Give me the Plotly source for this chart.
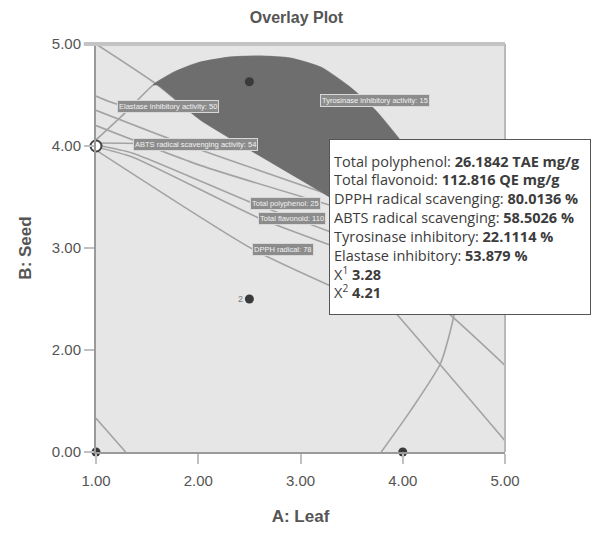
import plotly.graph_objects as go

# ---- axis ticks ----
x_ticks = [1, 2, 3, 4, 5]
x_tick_text = ["1.00", "2.00", "3.00", "4.00", "5.00"]
y_ticks = [1, 2, 3, 4, 5]
y_tick_text = ["0.00", "2.00", "3.00", "4.00", "5.00"]

# ---- design points (A: Leaf, B: Seed) ----
design_x = [1.0, 4.0, 2.5, 2.5]
design_y = [1.0, 1.0, 2.5, 4.63]
rep_x = 2.5
rep_y = 2.5
rep_count = "2"
open_x = [1.0]
open_y = [4.0]

# ---- contour lines of the responses ----
line_a_x = [1.00, 1.60, 2.02, 3.29, 4.17, 5.00]
line_a_y = [5.00, 4.60, 4.26, 3.50, 2.93, 2.45]

curve_c_x = [1.00, 1.29, 1.56, 1.78, 2.02, 2.31, 2.61, 2.90, 3.20, 3.49, 3.73,
             3.93, 4.12, 4.32, 4.47, 4.53, 4.50, 4.37, 4.08, 3.79]
curve_c_y = [4.06, 4.33, 4.60, 4.73, 4.82, 4.87, 4.88, 4.86, 4.77, 4.57, 4.35,
             4.11, 3.86, 3.52, 3.08, 2.69, 2.34, 1.87, 1.41, 1.00]

elastase_x = [1.00, 1.21, 2.49, 3.30]
elastase_y = [4.49, 4.41, 4.33, 4.00]
tpc_x = [1.00, 1.75, 3.29]
tpc_y = [4.35, 4.06, 3.52]
fan2_x = [1.00, 2.02, 3.29]
fan2_y = [4.20, 3.81, 3.42]
abts_x = [1.00, 2.99, 3.60]
abts_y = [4.03, 3.96, 3.70]
poly_x = [1.00, 1.36, 2.51, 3.29]
poly_y = [4.01, 3.93, 3.45, 3.16]
flav_x = [1.00, 1.36, 2.58, 3.29]
flav_y = [3.99, 3.89, 3.30, 3.03]
dpph_x = [1.00, 2.53, 3.29]
dpph_y = [3.96, 2.99, 2.63]
right1_x = [3.48, 3.95, 5.00]
right1_y = [2.86, 2.34, 1.11]
right2_x = [3.98, 4.47, 5.00]
right2_y = [2.73, 2.34, 1.85]
corner_x = [1.00, 1.29]
corner_y = [1.33, 1.00]

# dark region: inside curve C and above line A
shade_x = [1.56, 1.78, 2.02, 2.31, 2.61, 2.90, 3.20, 3.49, 3.73, 3.93, 4.12,
           4.32, 4.47, 4.52, 4.17, 3.29, 2.02, 1.60, 1.56]
shade_y = [4.60, 4.73, 4.82, 4.87, 4.88, 4.86, 4.77, 4.57, 4.35, 4.11, 3.86,
           3.52, 3.08, 2.80, 2.93, 3.50, 4.26, 4.60, 4.60]

# ---- contour labels ----
contour_labels = [
    ("Elastase inhibitory activity: 50", 1.21, 4.39),
    ("ABTS radical scavenging activity: 54", 1.36, 4.01),
    ("Tyrosinase inhibitory activity: 15", 3.19, 4.45),
    ("Total polyphenol: 25", 2.51, 3.44),
    ("Total flavonoid: 110", 2.58, 3.29),
    ("DPPH radical: 78", 2.53, 2.99),
]

# ---- flag ----
flag_x = 3.28
flag_y = 4.21
flag_rows = [
    ("Total polyphenol", "26.1842 TAE mg/g"),
    ("Total flavonoid", "112.816 QE mg/g"),
    ("DPPH radical scavenging", "80.0136 %"),
    ("ABTS radical scavenging", "58.5026 %"),
    ("Tyrosinase inhibitory", "22.1114 %"),
    ("Elastase inhibitory", "53.879 %"),
]

LINE_COLOR = "#a3a3a3"
SHADE = "#6e6e6e"
TXT = "#555555"
NARROW = "Liberation Sans Narrow, Arial Narrow, sans-serif"

fig = go.Figure()

contours = [
    (line_a_x, line_a_y), (curve_c_x, curve_c_y), (elastase_x, elastase_y),
    (tpc_x, tpc_y), (fan2_x, fan2_y), (abts_x, abts_y), (poly_x, poly_y),
    (flav_x, flav_y), (dpph_x, dpph_y), (right1_x, right1_y),
    (right2_x, right2_y), (corner_x, corner_y),
]
for cx, cy in contours:
    fig.add_trace(go.Scatter(
        x=cx, y=cy, mode="lines",
        line=dict(color=LINE_COLOR, width=1.6, shape="spline", smoothing=0.6),
        hoverinfo="skip", showlegend=False,
    ))

fig.add_trace(go.Scatter(
    x=shade_x, y=shade_y, mode="lines", fill="toself", fillcolor=SHADE,
    line=dict(color=SHADE, width=1, shape="spline", smoothing=0.5),
    hoverinfo="skip", showlegend=False,
))

fig.add_trace(go.Scatter(
    x=design_x, y=design_y, mode="markers",
    marker=dict(size=9, color="#3a3a3a"),
    cliponaxis=False, hoverinfo="skip", showlegend=False,
))
fig.add_trace(go.Scatter(
    x=open_x, y=open_y, mode="markers",
    marker=dict(size=11, color="white", line=dict(color="#444444", width=2)),
    cliponaxis=False, hoverinfo="skip", showlegend=False,
))

annotations = [dict(
    x=rep_x, y=rep_y, xref="x", yref="y", xanchor="right", yanchor="middle",
    xshift=-4, text=rep_count, showarrow=False,
    font=dict(size=9, color="#777777", family="Arial, sans-serif"),
)]
for txt, lx, ly in contour_labels:
    annotations.append(dict(
        x=lx, y=ly, xref="x", yref="y", xanchor="left", yanchor="middle",
        text=txt, showarrow=False,
        font=dict(size=7.5, color="#f2f2f2", family="Arial, sans-serif"),
        bgcolor="#8c8c8c", bordercolor="#d8d8d8", borderwidth=1, borderpad=1,
    ))

flag_lines = [f"{k}: <b>{v}</b>" for k, v in flag_rows]
flag_lines.append(f"X<sup>1</sup> <b>{flag_x:.2f}</b>")
flag_lines.append(f"X<sup>2</sup> <b>{flag_y:.2f}</b>")
annotations.append(dict(
    x=flag_x, y=flag_y, xref="x", yref="y", xanchor="left", yanchor="top",
    yshift=-14, text="<br>".join(flag_lines), showarrow=False, align="left",
    width=252, height=166, valign="middle",
    font=dict(size=14.5, color="#3c3c3c", family="Open Sans, sans-serif"),
    bgcolor="white", bordercolor="#555555", borderwidth=1, borderpad=4,
))

fig.update_layout(
    width=593, height=533,
    margin=dict(l=96, r=88, t=44, b=81),
    paper_bgcolor="white", plot_bgcolor="#e6e6e6",
    title=dict(text="Overlay Plot", x=0.5, xanchor="center", y=0.977,
               font=dict(family=NARROW, size=16, color=TXT, weight="bold")),
    annotations=annotations,
    shapes=[dict(type="line", xref="paper", yref="paper", x0=-0.03, x1=1,
                 y0=1, y1=1, line=dict(color="#c4c4c4", width=4)),
            dict(type="line", xref="paper", yref="paper", x0=1, x1=1,
                 y0=0, y1=1, line=dict(color="#b8b8b8", width=2))],
)
fig.update_xaxes(
    range=[1, 5], tickvals=x_ticks, ticktext=x_tick_text, automargin=False,
    showgrid=False, zeroline=False, showline=True, linecolor="#9a9a9a",
    linewidth=2, ticks="outside", ticklen=10, tickcolor="#c0c0c0",
    tickwidth=2, ticklabelstandoff=4,
    tickfont=dict(family=NARROW, size=15, color=TXT),
    title=dict(text="A: Leaf", standoff=22,
               font=dict(family=NARROW, size=17, color=TXT, weight="bold")),
)
fig.update_yaxes(
    range=[1, 5], tickvals=y_ticks, ticktext=y_tick_text, automargin=False,
    showgrid=False, zeroline=False, showline=True, linecolor="#9a9a9a",
    linewidth=2, ticks="outside", ticklen=10, tickcolor="#c0c0c0",
    tickwidth=2, tickfont=dict(family=NARROW, size=15, color=TXT),
    title=dict(text="B: Seed", standoff=16,
               font=dict(family=NARROW, size=17, color=TXT, weight="bold")),
)

fig.write_html("out.html")
